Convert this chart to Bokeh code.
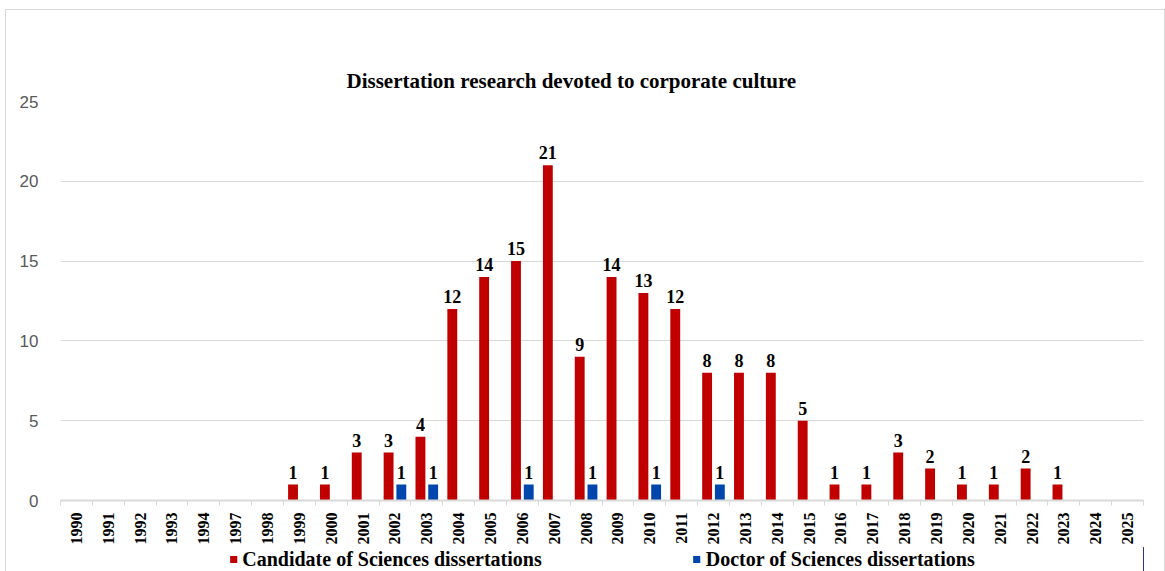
import math
from bokeh.plotting import figure
from bokeh.layouts import column
from bokeh.models import (ColumnDataSource, Range1d, FixedTicker, LabelSet,
                          Legend, LegendItem)
from bokeh.embed import file_html
from bokeh.resources import INLINE

# ---- data ----
years = ["1990", "1991", "1992", "1993", "1994", "1997", "1998", "1999", "2000",
         "2001", "2002", "2003", "2004", "2005", "2006", "2007", "2008", "2009",
         "2010", "2011", "2012", "2013", "2014", "2015", "2016", "2017", "2018",
         "2019", "2020", "2021", "2022", "2023", "2024", "2025"]
candidate = [0, 0, 0, 0, 0, 0, 0, 1, 1, 3, 3, 4, 12, 14, 15, 21, 9, 14, 13, 12,
             8, 8, 8, 5, 1, 1, 3, 2, 1, 1, 2, 1, 0, 0]
doctor = [0, 0, 0, 0, 0, 0, 0, 0, 0, 0, 1, 1, 0, 0, 1, 0, 1, 0, 1, 0,
          1, 0, 0, 0, 0, 0, 0, 0, 0, 0, 0, 0, 0, 0]
y_ticks = [0, 5, 10, 15, 20, 25]
series_names = ["Candidate of Sciences dissertations", "Doctor of Sciences dissertations"]
title_text = "Dissertation research devoted to corporate culture"

RED = "#C00000"
BLUE = "#0046AD"
SERIF = "Liberation Serif"

n = len(years)
centers = [i + 0.5 for i in range(n)]
dx = 0.2
bw = 0.31

src_c = ColumnDataSource(dict(x=[c - dx for c in centers], top=candidate))
src_d = ColumnDataSource(dict(x=[c + dx for c in centers], top=doctor))

lab_c = ColumnDataSource(dict(
    x=[c - dx for c, v in zip(centers, candidate) if v > 0],
    y=[v for v in candidate if v > 0],
    t=[str(v) for v in candidate if v > 0]))
lab_d = ColumnDataSource(dict(
    x=[c + dx for c, v in zip(centers, doctor) if v > 0],
    y=[v for v in doctor if v > 0],
    t=[str(v) for v in doctor if v > 0]))

W = 1158
p = figure(width=W, height=537, output_backend="svg", toolbar_location=None,
           x_range=Range1d(0, n), y_range=Range1d(0, 25),
           min_border_left=54, min_border_right=21, min_border_top=91,
           min_border_bottom=44, outline_line_color=None)

p.title.text = title_text
p.title.align = "left"
p.title.offset = 286
p.title.text_font = SERIF
p.title.text_font_style = "bold"
p.title.text_font_size = "21px"
p.title.text_color = "#000000"
p.title.standoff = 17

p.vbar(x="x", top="top", width=bw, bottom=0, source=src_c,
       fill_color=RED, line_color=None)
p.vbar(x="x", top="top", width=bw, bottom=0, source=src_d,
       fill_color=BLUE, line_color=None)

for s in (lab_c, lab_d):
    p.add_layout(LabelSet(x="x", y="y", text="t", source=s, y_offset=6,
                          text_align="center", text_baseline="bottom",
                          text_font=SERIF, text_font_style="bold",
                          text_font_size="18px", text_color="#000000"))

# y axis
p.yaxis.ticker = FixedTicker(ticks=y_ticks)
p.yaxis.axis_line_color = None
p.yaxis.major_tick_line_color = None
p.yaxis.minor_tick_line_color = None
p.yaxis.major_label_text_color = "#595959"
p.yaxis.major_label_text_font = "Liberation Sans"
p.yaxis.major_label_text_font_size = "17px"
p.yaxis.major_label_standoff = 16
p.ygrid.grid_line_color = "#d9d9d9"
p.xgrid.grid_line_color = None

# x axis
p.xaxis.ticker = FixedTicker(ticks=centers, minor_ticks=list(range(n + 1)))
p.xaxis.major_label_overrides = {c: y for c, y in zip(centers, years)}
p.xaxis.major_tick_line_color = None
p.xaxis.minor_tick_line_color = "#d9d9d9"
p.xaxis.minor_tick_in = 0
p.xaxis.minor_tick_out = 5
p.xaxis.axis_line_color = "#d9d9d9"
p.xaxis.axis_line_width = 2
p.xaxis.major_label_orientation = math.pi / 2
p.xaxis.major_label_text_font = SERIF
p.xaxis.major_label_text_font_style = "bold"
p.xaxis.major_label_text_font_size = "16px"
p.xaxis.major_label_text_color = "#000000"
p.xaxis.major_label_standoff = 6

# legend strip below the chart (same series renderers, view kept off-data)
lg = figure(width=W, height=24, output_backend="svg", toolbar_location=None,
            x_range=Range1d(-20, -10), y_range=Range1d(0, 1),
            x_axis_type=None, y_axis_type=None, outline_line_color=None,
            min_border_left=46, min_border_right=0, min_border_top=0,
            min_border_bottom=0)
lg.xgrid.grid_line_color = None
lg.ygrid.grid_line_color = None
k_c = lg.vbar(x="x", top="top", width=bw, bottom=0, source=src_c,
              fill_color=RED, line_color=None)
k_d = lg.vbar(x="x", top="top", width=bw, bottom=0, source=src_d,
              fill_color=BLUE, line_color=None)
legend = Legend(items=[LegendItem(label=series_names[0], renderers=[k_c]),
                       LegendItem(label=series_names[1], renderers=[k_d])],
                location="center", orientation="horizontal", spacing=150,
                glyph_width=9, glyph_height=9, label_standoff=5, padding=0,
                margin=0, border_line_color=None, background_fill_alpha=0,
                label_height=20, label_text_baseline="middle",
                label_text_font=SERIF, label_text_font_style="bold",
                label_text_font_size="20px", label_text_color="#000000")
lg.add_layout(legend, "center")

layout = column(p, lg, spacing=0,
                styles={"outline": "1px solid #d9d9d9", "margin-left": "6px",
                        "margin-top": "10px"})

open("out.html", "w").write(file_html(layout, INLINE))
